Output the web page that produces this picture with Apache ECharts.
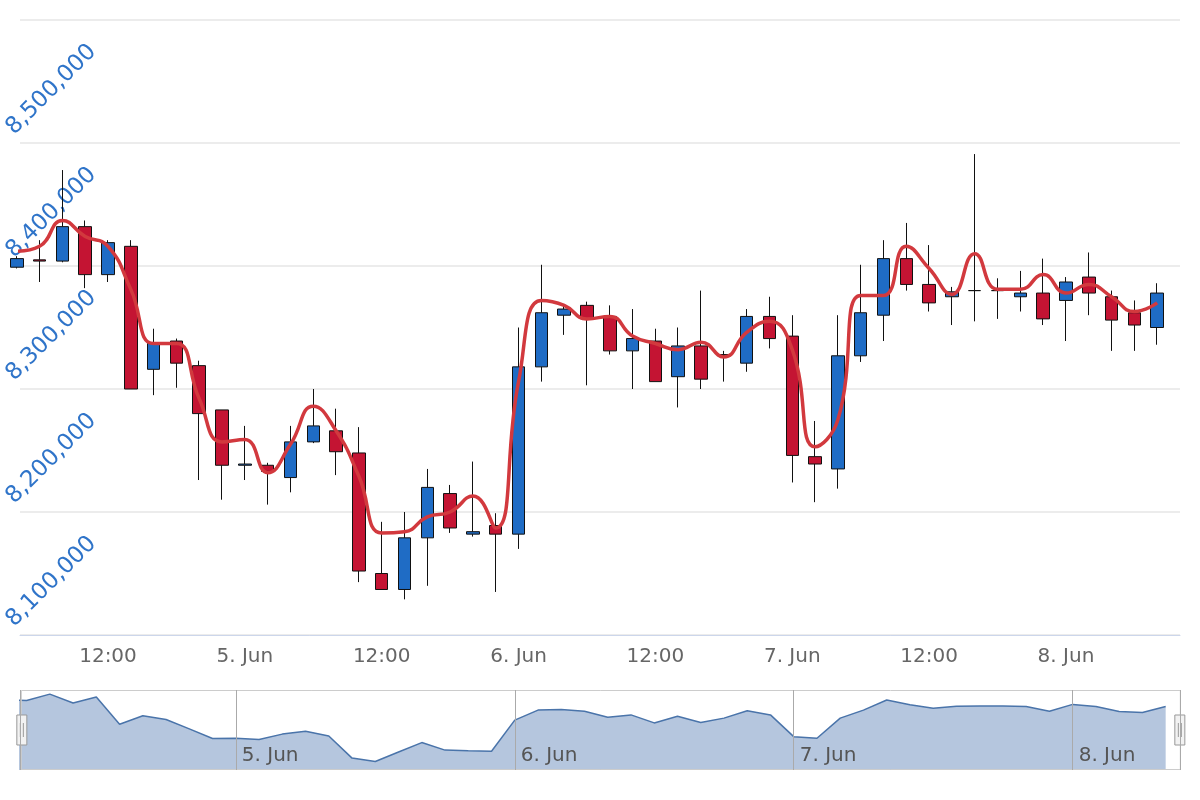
<!DOCTYPE html>
<html>
<head>
<meta charset="utf-8">
<script src="https://cdn.jsdelivr.net/npm/echarts@6/dist/echarts.min.js"></script>
<style>html,body{margin:0;padding:0;background:#fff}#main{width:1200px;height:800px}</style>
</head>
<body>
<div id="main"></div>
<script>
// 2-hour candles, 4 Jun 04:00 .. 8 Jun 08:00
var startTime = Date.UTC(2021, 5, 4, 4);
var opens  = [8299,8305,8304,8332,8293,8316,8216,8239,8219,8183,8138,8138,8128,8157,8166,8148,8050,8037,8079,8115,8082,8089,8082,8218,8260,8268,8259,8231,8239,8210,8235,8228,8221,8259,8243,8145,8135,8227,8260,8306,8285,8275,8280,8280,8275,8278,8272,8291,8275,8262,8250];
var closes = [8306,8304,8332,8293,8319,8200,8237,8221,8180,8138,8139,8133,8157,8170,8149,8052,8037,8079,8120,8087,8084,8082,8218,8262,8265,8257,8231,8241,8206,8235,8208,8227,8259,8241,8146,8139,8227,8262,8306,8285,8270,8279,8280,8280,8278,8257,8287,8278,8256,8252,8278];
var lows   = [8298,8287,8303,8282,8287,8200,8195,8201,8126,8110,8126,8106,8116,8156,8130,8043,8037,8029,8040,8083,8080,8035,8070,8206,8244,8203,8228,8200,8206,8185,8200,8206,8214,8233,8124,8108,8119,8222,8239,8280,8263,8252,8255,8257,8263,8252,8239,8260,8231,8231,8236];
var highs  = [8308,8321,8378,8337,8321,8321,8249,8241,8223,8183,8170,8140,8170,8200,8184,8169,8092,8100,8135,8122,8141,8099,8250,8301,8269,8271,8268,8265,8249,8250,8280,8231,8265,8275,8260,8174,8260,8301,8321,8335,8317,8283,8391,8290,8296,8306,8291,8311,8280,8272,8286];
var lineValues = [8312,8316,8337,8324,8316,8281,8237,8237,8192,8157,8159,8132,8155,8186,8166,8129,8083,8084,8096,8100,8113,8087,8206,8272,8268,8257,8259,8243,8237,8232,8238,8226,8246,8255,8232,8153,8175,8276,8276,8316,8298,8277,8310,8281,8281,8293,8278,8285,8275,8263,8270];

var H = 3600 * 1000;
var candleData = [], lineData = [];
for (var i = 0; i < opens.length; i++) {
    var t = startTime + i * 2 * H;
    candleData.push([t, opens[i] * 1000, closes[i] * 1000, lows[i] * 1000, highs[i] * 1000]);
    lineData.push([t, lineValues[i] * 1000]);
}
var navData = closes.map(function (c, i) { return [startTime + i * 2 * H, c * 1000]; });

function timeLabel(v) {
    var d = new Date(v);
    if (d.getUTCMinutes() !== 0) return '';
    if (d.getUTCHours() === 0) return d.getUTCDate() + '. Jun';
    if (d.getUTCHours() === 12) return '12:00';
    return '';
}

var chart = echarts.init(document.getElementById('main'));
var option = {
    useUTC: true,
    animation: false,
    grid: [
        {left: 20, right: 20, top: 20, bottom: 165, containLabel: false, outerBoundsMode: 'none'},
        {left: 20, right: 20, top: 690, height: 80, containLabel: false, outerBoundsMode: 'none'}
    ],
    xAxis: [
        {
            type: 'time', gridIndex: 0,
            min: Date.UTC(2021, 5, 4, 4, 17), max: Date.UTC(2021, 5, 8, 10),
            axisLine: {lineStyle: {color: '#ccd6eb'}},
            axisTick: {show: false},
            splitLine: {show: false},
            axisLabel: {formatter: timeLabel, color: '#666', fontSize: 20, margin: 12, fontFamily: 'DejaVu Sans', hideOverlap: false}
        },
        {
            type: 'time', gridIndex: 1, z: 5, splitNumber: 4,
            min: Date.UTC(2021, 5, 4, 5, 26), max: Date.UTC(2021, 5, 8, 9, 14),
            axisLine: {show: false}, axisTick: {show: false},
            splitLine: {show: true, lineStyle: {color: '#aaa'}},
            axisLabel: {
                show: true, align: 'left', margin: -24, padding: [0, 0, 0, 6],
                color: '#555', fontSize: 20, fontFamily: 'DejaVu Sans',
                formatter: function (v) {
                    var d = new Date(v);
                    return d.getUTCHours() === 0 && d.getUTCMinutes() === 0 ? d.getUTCDate() + '. Jun' : '';
                }
            }
        }
    ],
    yAxis: [
        {
            type: 'value', gridIndex: 0,
            min: 8000000, max: 8500000, interval: 100000,
            axisLine: {show: false}, axisTick: {show: false},
            splitLine: {lineStyle: {color: '#e6e6e6', width: 1.5}},
            axisLabel: {
                showMinLabel: false, rotate: 45, margin: -101, align: 'right', verticalAlign: 'middle',
                padding: [40, 40, 0, 0],
                color: '#2f74c9', fontSize: 23, fontFamily: 'DejaVu Sans',
                formatter: function (v) { return v.toLocaleString('en-US'); }
            }
        },
        {
            type: 'value', gridIndex: 1, min: 8000000, max: 8350000,
            show: false, splitLine: {show: false}
        }
    ],
    dataZoom: [{
        type: 'slider', xAxisIndex: 0, start: 0, end: 100, filterMode: 'none',
        left: 20, right: 20, top: 690, height: 80,
        showDataShadow: false, showDetail: false, brushSelect: false,
        backgroundColor: 'rgba(0,0,0,0)', fillerColor: 'rgba(0,0,0,0)',
        borderColor: '#ccc',
        handleIcon: 'path://M0,0 L10,0 L10,30 L0,30 Z M3.5,8 L3.5,22 M6.5,8 L6.5,22',
        handleSize: 30,
        handleStyle: {color: '#f2f2f2', borderColor: '#999', borderWidth: 1},
        moveHandleSize: 0
    }],
    series: [
        {
            type: 'candlestick', xAxisIndex: 0, yAxisIndex: 0,
            barWidth: 13,
            data: candleData,
            itemStyle: {
                color: '#1f6cc5', color0: '#c41433',
                borderColor: '#111', borderColor0: '#111', borderWidth: 1
            }
        },
        {
            type: 'line', xAxisIndex: 0, yAxisIndex: 0,
            data: lineData, smooth: 0.5, symbol: 'none',
            lineStyle: {color: '#d2393e', width: 3.5}
        },
        {
            type: 'line', xAxisIndex: 1, yAxisIndex: 1,
            data: navData, symbol: 'none',
            lineStyle: {color: '#4a74aa', width: 1.5},
            areaStyle: {color: '#b5c6de', opacity: 1}
        }
    ]
};
chart.setOption(option);
</script>
</body>
</html>
